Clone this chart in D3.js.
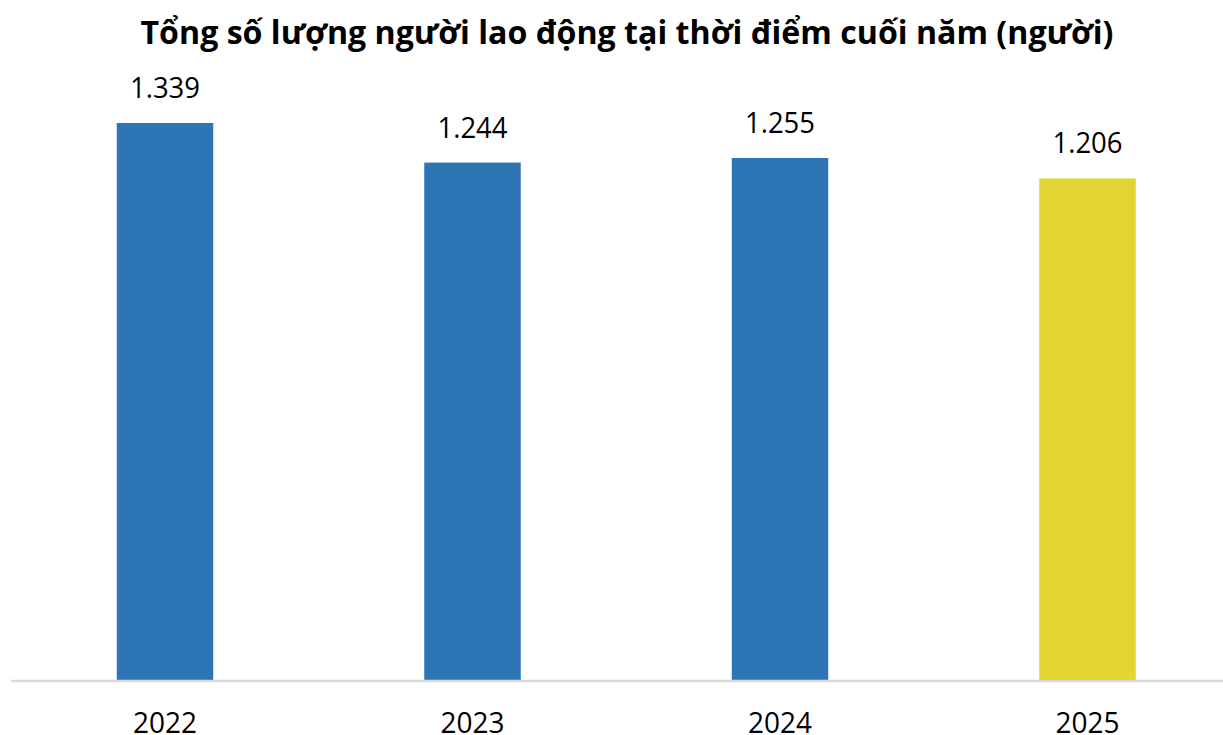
<!DOCTYPE html>
<html>
<head>
<meta charset="utf-8">
<script src="https://cdn.jsdelivr.net/npm/d3@7"></script>
<style>
  body { margin: 0; background: #fff; }
  text { font-family: "Open Sans", "Noto Sans", sans-serif; }
</style>
</head>
<body>
<svg id="chart" width="1223" height="735"></svg>
<script>
// data
const years = ['2022', '2023', '2024', '2025']
const workers = [1339, 1244, 1255, 1206]
const barColors = ['#2E75B6', '#2E75B6', '#2E75B6', '#E2D532']
const title = 'Tổng số lượng người lao động tại thời điểm cuối năm (người)'

const width = 1223
const height = 735
const baseY = 681

const svg = d3.select('#chart')

const x = d3.scaleBand()
  .domain(years)
  .range([11.25, 1241.25])
  .padding(0)

const y = d3.scaleLinear()
  .domain([0, 1339])
  .range([baseY, 123])

const barW = 96.5

// title
svg.append('text')
  .attr('x', 627)
  .attr('y', 44)
  .attr('text-anchor', 'middle')
  .attr('font-size', 33)
  .attr('font-weight', 700)
  .attr('fill', '#000')
  .attr('textLength', 973)
  .attr('lengthAdjust', 'spacingAndGlyphs')
  .text(title)

// bars
svg.selectAll('rect.bar')
  .data(years)
  .join('rect')
  .attr('class', 'bar')
  .attr('x', d => x(d) + x.bandwidth() / 2 - barW / 2)
  .attr('width', barW)
  .attr('y', (d, i) => y(workers[i]))
  .attr('height', (d, i) => baseY - y(workers[i]))
  .attr('fill', (d, i) => barColors[i])

// value labels (vietnamese thousands separator)
const fmt = d3.formatLocale({ decimal: ',', thousands: '.', grouping: [3], currency: ['', ''] }).format(',')

svg.selectAll('text.val')
  .data(years)
  .join('text')
  .attr('class', 'val')
  .attr('x', d => x(d) + x.bandwidth() / 2)
  .attr('y', (d, i) => y(workers[i]) - 25)
  .attr('text-anchor', 'middle')
  .attr('font-size', 29)
  .attr('fill', '#000')
  .attr('textLength', 70)
  .attr('lengthAdjust', 'spacingAndGlyphs')
  .text((d, i) => fmt(workers[i]))

// axis
const axis = svg.append('g')
  .attr('transform', `translate(0,${baseY})`)
  .call(d3.axisBottom(x).tickSize(0).tickPadding(30))

axis.select('.domain')
  .attr('d', `M11,0H${width}`)
  .attr('stroke', '#D9D9D9')
  .attr('stroke-width', 2.5)

axis.selectAll('.tick text')
  .attr('font-size', 29)
  .attr('font-family', '"Open Sans", "Noto Sans", sans-serif')
  .attr('fill', '#000')
  .attr('dy', 0)
  .attr('y', 52)
  .attr('textLength', 64)
  .attr('lengthAdjust', 'spacingAndGlyphs')
</script>
</body>
</html>
